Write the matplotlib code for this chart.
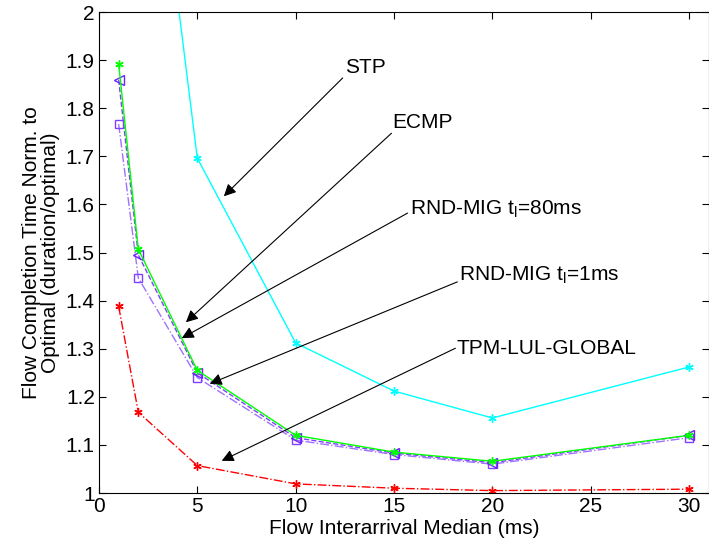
import matplotlib
matplotlib.use('Agg')
import matplotlib.pyplot as plt

plt.rcParams['font.family'] = ['Liberation Sans', 'DejaVu Sans']
plt.rcParams['mathtext.fontset'] = 'custom'
plt.rcParams['mathtext.rm'] = 'Liberation Sans'

# ---------- dados ----------- #
x_vals = [1, 2, 5, 10, 15, 20, 30]
stp = [3.5, 2.68, 1.696, 1.312, 1.212, 1.156, 1.262]
ecmp = [1.892, 1.507, 1.255, 1.120, 1.085, 1.066, 1.120]
rnd_80 = [1.859, 1.495, 1.250, 1.115, 1.083, 1.063, 1.120]
rnd_1 = [1.767, 1.447, 1.240, 1.110, 1.080, 1.060, 1.115]
tpm = [1.388, 1.168, 1.057, 1.019, 1.010, 1.005, 1.008]

labels = ['STP', 'ECMP', 'RND-MIG t$_{\\mathregular{l}}$=80ms',
          'RND-MIG t$_{\\mathregular{l}}$=1ms', 'TPM-LUL-GLOBAL']

fs = 15

# grafico
fig = plt.figure(figsize=(7.09, 5.5), dpi=100)
ax = fig.add_axes([0.1396, 0.1036, 0.86, 0.8745])

ast = (6, 2, 0)  # asterisco estilo matlab
ax.plot(x_vals, stp, color='#00ffff', linewidth=1.0, marker=ast, markersize=6)
ax.plot(x_vals, rnd_1, color='#a070ff', linestyle='-.', linewidth=1.0,
        marker='s', markersize=6, markerfacecolor='none', markeredgecolor='#8040ff')
ax.plot(x_vals, rnd_80, color='#8040ff', linestyle='--', linewidth=1.0,
        marker='<', markersize=7, markerfacecolor='none', markeredgecolor='#7020ff')
ax.plot(x_vals, ecmp, color='#00ff00', linewidth=1.0, marker=ast, markersize=6)
ax.plot(x_vals, tpm, color='#ff0000', linestyle='-.', linewidth=1.0, marker=ast, markersize=6)

ax.set_xlim(0, 31)
ax.set_ylim(1, 2)
ax.set_xticks([0, 5, 10, 15, 20, 25, 30])
ax.set_yticks([1, 1.1, 1.2, 1.3, 1.4, 1.5, 1.6, 1.7, 1.8, 1.9, 2])
ax.set_yticklabels(['1', '1.1', '1.2', '1.3', '1.4', '1.5', '1.6', '1.7', '1.8', '1.9', '2'])
ax.tick_params(direction='in', top=True, right=True, labelsize=fs, length=5, pad=3)
for s in ax.spines.values():
    s.set_linewidth(0.8)

ax.set_xlabel('Flow Interarrival Median (ms)', fontsize=fs, labelpad=2)
ax.set_ylabel('Flow Completion Time Norm. to\nOptimal (duration/optimal)', fontsize=fs,
              linespacing=1.0, labelpad=4)

# setas
arrows = [
    ((6.35, 1.617), (12.39, 1.863), (12.5, 1.885)),
    ((4.42, 1.355), (14.87, 1.748), (14.9, 1.77)),
    ((4.21, 1.322), (15.69, 1.582), (15.8, 1.59)),
    ((5.63, 1.227), (18.22, 1.439), (18.3, 1.452)),
    ((6.24, 1.067), (18.12, 1.301), (18.2, 1.30)),
]
for lab, (tip, start, txt) in zip(labels, arrows):
    ax.annotate('', xy=tip, xytext=start,
                arrowprops=dict(arrowstyle='-|>', color='black', lw=0.8,
                                mutation_scale=18, shrinkA=0, shrinkB=0))
    ax.text(txt[0], txt[1], lab, fontsize=fs, ha='left', va='center')

fig.savefig('out.png', dpi=100)
